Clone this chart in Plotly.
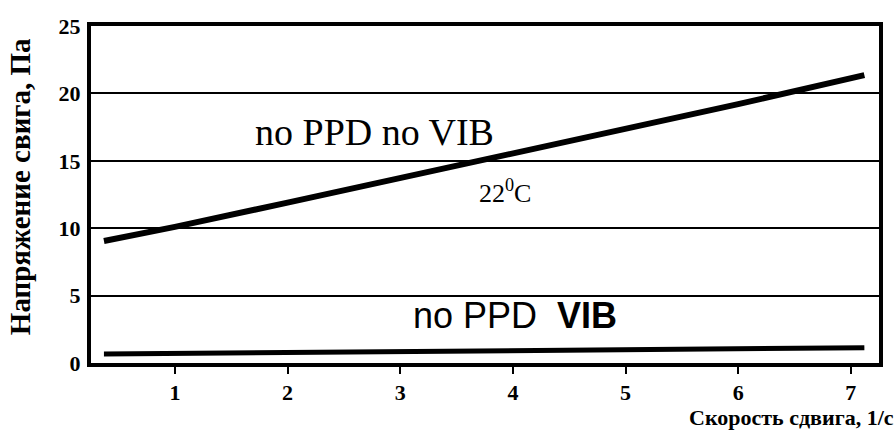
import plotly.graph_objects as go

# Data
shear_rate = [0.37, 1, 2, 3, 4, 5, 6, 7.12]
stress_no_ppd_no_vib = [9.05, 10.1, 11.9, 13.7, 15.5, 17.3, 19.2, 21.36]
stress_no_ppd_vib = [0.67, 0.71, 0.78, 0.85, 0.92, 0.99, 1.06, 1.13]

x_ticks = [1, 2, 3, 4, 5, 6, 7]
y_ticks = [0, 5, 10, 15, 20, 25]

x_title = "Скорость сдвига, 1/с"
y_title = "Напряжение свига, Па"

fig = go.Figure()
fig.add_trace(go.Scatter(x=shear_rate, y=stress_no_ppd_no_vib, mode="lines",
                         line=dict(color="black", width=6), showlegend=False))
fig.add_trace(go.Scatter(x=shear_rate, y=stress_no_ppd_vib, mode="lines",
                         line=dict(color="black", width=5), showlegend=False))

serif_bold = dict(family="Liberation Serif, Times New Roman, serif", size=22,
                  color="black", weight="bold")

fig.update_layout(
    width=896, height=432,
    margin=dict(l=91, r=17, t=26, b=69),
    paper_bgcolor="white", plot_bgcolor="white",
    hovermode=False,
    xaxis=dict(range=[0.255, 7.25], tickvals=x_ticks, ticktext=[str(v) for v in x_ticks],
               showgrid=False, zeroline=False,
               showline=True, linecolor="black", linewidth=4, mirror=True,
               ticks="outside", ticklen=7, tickwidth=2, tickcolor="black",
               ticklabelstandoff=0, tickfont=serif_bold),
    yaxis=dict(range=[0, 25], tickvals=y_ticks, ticktext=[str(v) for v in y_ticks],
               showgrid=True, gridcolor="black", gridwidth=2, zeroline=False,
               showline=True, linecolor="black", linewidth=4, mirror=True,
               ticks="", ticklabelstandoff=2, tickfont=serif_bold),
    annotations=[
        dict(text=x_title, xref="paper", yref="paper", x=1.022, y=-0.163,
             xanchor="right", yanchor="middle", showarrow=False,
             font=dict(family="Liberation Serif, serif", size=22, color="black", weight="bold")),
        dict(text=y_title, xref="paper", yref="paper", x=-0.09, y=0.522,
             xanchor="center", yanchor="middle", textangle=-90, showarrow=False,
             font=dict(family="Liberation Serif, serif", size=29, color="black", weight="bold")),
        dict(text="no PPD no VIB", xref="x", yref="y", x=2.77, y=17.1,
             xanchor="center", yanchor="middle", showarrow=False,
             font=dict(family="Liberation Serif, serif", size=38, color="black")),
        dict(text="22<sup>0</sup>C", xref="x", yref="y", x=3.93, y=12.7,
             xanchor="center", yanchor="middle", showarrow=False,
             font=dict(family="Liberation Serif, serif", size=26, color="black")),
        dict(text="no PPD\u00a0\u00a0<b>VIB</b>", xref="x", yref="y", x=4.02, y=3.5,
             xanchor="center", yanchor="middle", showarrow=False,
             font=dict(family="Liberation Sans, Arial, sans-serif", size=36, color="black")),
    ],
)

fig.write_html("out.html", config={"displayModeBar": False},
               post_script="document.body.style.margin='0';document.body.style.padding='0';")
